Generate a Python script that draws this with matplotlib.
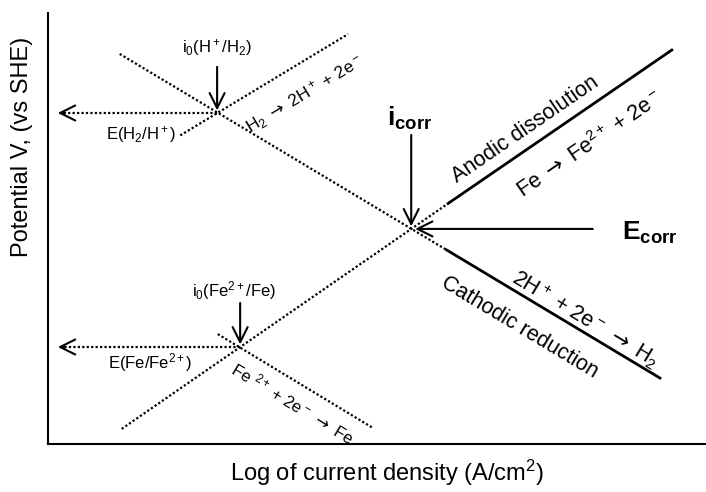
import numpy as np
import matplotlib
matplotlib.use("Agg")
import matplotlib.pyplot as plt

plt.rcParams['font.family'] = ['Liberation Sans', 'DejaVu Sans']
plt.rcParams['mathtext.fontset'] = 'custom'
plt.rcParams['mathtext.rm'] = 'Liberation Sans'
plt.rcParams['mathtext.it'] = 'Liberation Sans:italic'
plt.rcParams['mathtext.bf'] = 'Liberation Sans:bold'
plt.rcParams['mathtext.sf'] = 'DejaVu Sans'

# reaction arrow, drawn from DejaVu (the Liberation one is tiny)
RA = r'$\mathsf{\rightarrow}$'

# --- Evans diagram, arbitrary units: x = log i, y = potential ---
# equilibrium / mixed potential points (log i, E)
h2_point = (2.57, 7.68)
fe_point = (2.92, 2.25)
corr_point = (5.52, 4.99)

# Tafel lines, dotted part then solid part (x list, y list)
h_cath_dot_x = [1.09, 6.06]
h_cath_dot_y = [9.05, 4.50]
h_cath_solid_x = [6.06, 9.30]
h_cath_solid_y = [4.50, 1.53]

h_anod_dot_x = [2.01, 4.56]
h_anod_dot_y = [7.16, 9.51]

fe_anod_dot_x = [1.12, 6.08]
fe_anod_dot_y = [0.35, 5.58]
fe_anod_solid_x = [6.08, 9.48]
fe_anod_solid_y = [5.58, 9.14]

fe_cath_dot_x = [2.58, 4.94]
fe_cath_dot_y = [2.55, 0.37]

# where the horizontal E arrows end on the potential axis
e_arrow_end_x = 0.15

dots = (0, (1, 1))

fig = plt.figure(figsize=(7.06, 4.92), dpi=100)
ax = fig.add_axes([0.068, 0.0976, 0.932, 0.876])
ax.set_xlim(0, 10)
ax.set_ylim(0, 10)
ax.set_xticks([])
ax.set_yticks([])
for s in ['top', 'right']:
    ax.spines[s].set_visible(False)
for s in ['left', 'bottom']:
    ax.spines[s].set_linewidth(1.5)

# lines
ax.plot(h_cath_dot_x, h_cath_dot_y, color='k', lw=1.6, ls=dots)
ax.plot(h_cath_solid_x, h_cath_solid_y, color='k', lw=2)
ax.plot(h_anod_dot_x, h_anod_dot_y, color='k', lw=1.6, ls=dots)
ax.plot(fe_anod_dot_x, fe_anod_dot_y, color='k', lw=1.6, ls=dots)
ax.plot(fe_anod_solid_x, fe_anod_solid_y, color='k', lw=2)
ax.plot(fe_cath_dot_x, fe_cath_dot_y, color='k', lw=1.6, ls=dots)


def angle(xs, ys):
    p = ax.transData.transform(np.column_stack([xs, ys]))
    return np.degrees(np.arctan2(p[1, 1] - p[0, 1], p[1, 0] - p[0, 0]))


ang_h_cath = angle(h_cath_solid_x, h_cath_solid_y)
ang_h_anod = angle(h_anod_dot_x, h_anod_dot_y)
ang_fe_anod = angle(fe_anod_solid_x, fe_anod_solid_y)
ang_fe_cath = angle(fe_cath_dot_x, fe_cath_dot_y)

arr = dict(arrowstyle='->,head_length=0.9,head_width=0.45', color='k',
           lw=1.5, shrinkA=0, shrinkB=0, mutation_scale=12)


def down_arrow(pt, top):
    ax.annotate('', xy=(pt[0], pt[1] + 0.06), xytext=(pt[0], top), arrowprops=arr)


def e_arrow(pt):
    ax.plot([pt[0], e_arrow_end_x], [pt[1], pt[1]], color='k', lw=1.6, ls=dots)
    ax.annotate('', xy=(e_arrow_end_x, pt[1]), xytext=(e_arrow_end_x + 0.1, pt[1]),
                arrowprops=arr)


down_arrow(h2_point, 8.75)
down_arrow(fe_point, 3.27)
down_arrow(corr_point, 7.17)
ax.annotate('', xy=(corr_point[0] + 0.06, corr_point[1]), xytext=(8.28, corr_point[1]),
            arrowprops=arr)
e_arrow(h2_point)
e_arrow(fe_point)

# labels
ax.text(2.57, 9.19, r'i$_0$(H$^+$/H$_2$)', fontsize=12, ha='center', va='center')
ax.text(1.95, 7.17, r'E(H$_2$/H$^+$)', fontsize=12, ha='right', va='center')
ax.text(3.91, 8.10, r'H$_2$ ' + RA + r' 2H$^+$ + 2e$^-$', fontsize=12.5,
        ha='center', va='center', rotation=ang_h_anod, rotation_mode='anchor')
ax.text(5.50, 7.56, r'$\mathbf{i}_{\mathbf{corr}}$', fontsize=19, ha='center', va='center')
ax.text(7.26, 7.29, 'Anodic dissolution', fontsize=15.5, ha='center', va='center',
        rotation=ang_fe_anod, rotation_mode='anchor')
ax.text(8.24, 6.94, r'Fe ' + RA + r' Fe$^{2+}$ + 2e$^-$', fontsize=15.5,
        ha='center', va='center', rotation=ang_fe_anod, rotation_mode='anchor')
ax.text(8.72, 4.90, r'$\mathbf{E}_{\mathbf{corr}}$', fontsize=19, ha='left', va='center')
ax.text(8.16, 2.88, r'2H$^+$ + 2e$^-$ ' + RA + r' H$_2$', fontsize=15.5,
        ha='center', va='center', rotation=ang_h_cath, rotation_mode='anchor')
ax.text(7.17, 2.71, 'Cathodic reduction', fontsize=15.5, ha='center', va='center',
        rotation=ang_h_cath, rotation_mode='anchor')
ax.text(2.83, 3.57, r'i$_0$(Fe$^{2+}$/Fe)', fontsize=12, ha='center', va='center')
ax.text(2.19, 1.88, r'E(Fe/Fe$^{2+}$)', fontsize=12, ha='right', va='center')
ax.text(3.72, 0.95, r'Fe $^{2+}$ + 2e$^-$ ' + RA + ' Fe', fontsize=12,
        ha='center', va='center', rotation=ang_fe_cath, rotation_mode='anchor')

ax.set_xlabel(r'Log of current density (A/cm$^2$)', fontsize=17)
ax.set_ylabel('Potential V, (vs SHE)', fontsize=17)
ax.xaxis.set_label_coords(0.515, -0.067)
ax.xaxis.label.set_va('center')
ax.yaxis.set_label_coords(-0.0395, 0.69)
ax.yaxis.label.set_va('center')

fig.savefig('out.png', dpi=100)
